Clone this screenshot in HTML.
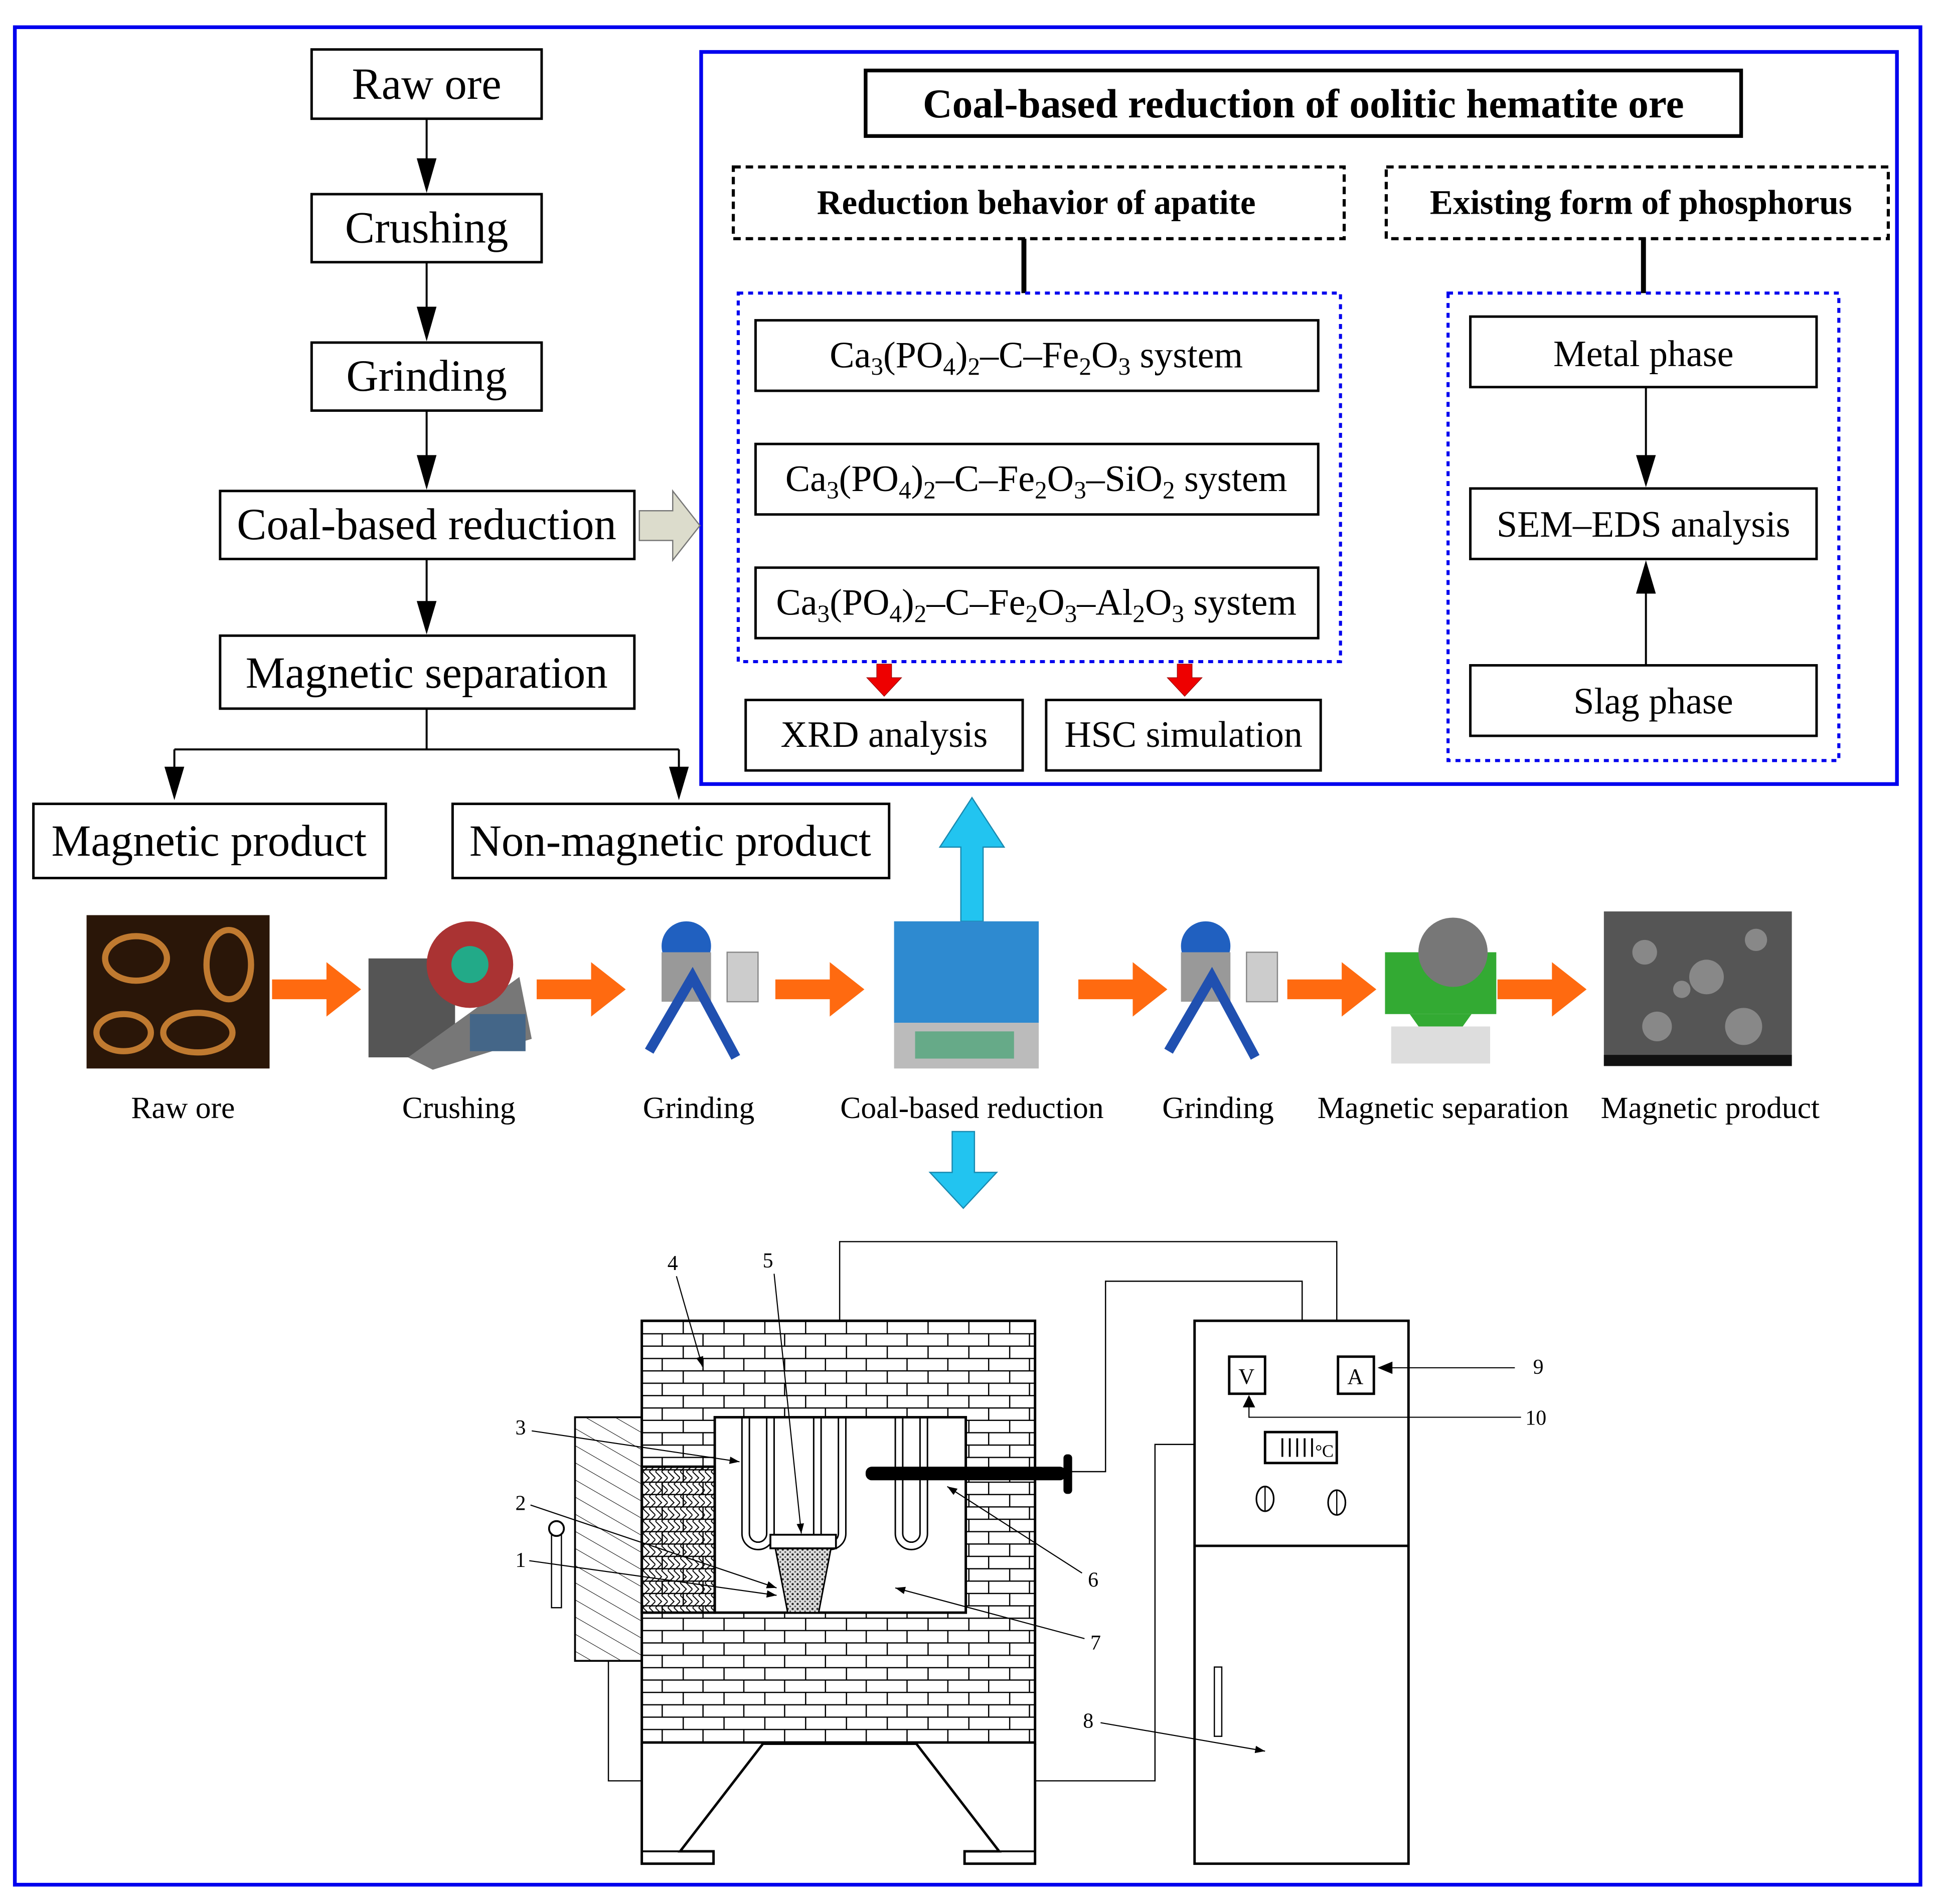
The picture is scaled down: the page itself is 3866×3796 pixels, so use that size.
<!DOCTYPE html>
<html><head><meta charset="utf-8"><style>
html,body{margin:0;padding:0;background:#fff}
svg{display:block}
text{font-family:"Liberation Serif",serif;fill:#000}
</style></head><body>
<svg width="3866" height="3796" viewBox="0 0 1568 1539.6" preserveAspectRatio="none" xmlns="http://www.w3.org/2000/svg">
<defs>
<marker id="sa" markerWidth="8" markerHeight="6" refX="8" refY="3" orient="auto" markerUnits="userSpaceOnUse"><path d="M0,0 L8,3 L0,6 Z" fill="#000"/></marker>
<pattern id="brick" width="33" height="20" patternUnits="userSpaceOnUse" x="519" y="1068">
<rect width="33" height="20" fill="#fff"/>
<path d="M0,0.5 H33 M0,10.5 H33 M0.5,0 V10 M16.5,10 V20" stroke="#000" stroke-width="1" fill="none"/>
</pattern>
<pattern id="hatch" width="12" height="12" patternUnits="userSpaceOnUse" patternTransform="rotate(-60)">
<line x1="0" y1="0" x2="0" y2="12" stroke="#000" stroke-width="0.8"/>
</pattern>
<pattern id="weave" width="10" height="10" patternUnits="userSpaceOnUse">
<path d="M0,0 L5,5 L0,10 M5,0 L10,5 L5,10" stroke="#000" stroke-width="0.8" fill="none"/>
</pattern>
<pattern id="dots" width="4" height="4" patternUnits="userSpaceOnUse">
<rect width="4" height="4" fill="#ddd"/><circle cx="1" cy="1" r="0.9" fill="#222"/><circle cx="3" cy="3" r="0.7" fill="#555"/>
</pattern>
</defs>

<rect x="12" y="22" width="1541" height="1502" fill="none" stroke="#0000ee" stroke-width="3"/>
<rect x="567" y="42" width="967" height="592" fill="none" stroke="#0000ee" stroke-width="3"/>

<g fill="#fff" stroke="#000" stroke-width="2">
<rect x="252" y="40" width="186" height="56"/>
<rect x="252" y="157" width="186" height="55"/>
<rect x="252" y="277" width="186" height="55"/>
<rect x="178" y="397" width="335" height="55"/>
<rect x="178" y="514" width="335" height="59"/>
<rect x="27" y="650" width="285" height="60"/>
<rect x="366" y="650" width="353" height="60"/>
</g>
<g font-size="36" text-anchor="middle">
<text x="345" y="80">Raw ore</text>
<text x="345" y="196">Crushing</text>
<text x="345" y="316">Grinding</text>
<text x="345" y="436">Coal-based reduction</text>
<text x="345" y="556">Magnetic separation</text>
<text x="169" y="692">Magnetic product</text>
<text x="542" y="692">Non-magnetic product</text>
</g>
<g stroke="#000" stroke-width="1.6" fill="none">
<path d="M345,96 V130 M345,212 V250 M345,332 V370 M345,452 V488 M345,573 V606 M141,606 H549 M141,606 V622 M549,606 V622"/>
</g>
<g fill="#000">
<path d="M337,128 L353,128 L345,156 Z"/>
<path d="M337,248 L353,248 L345,276 Z"/>
<path d="M337,368 L353,368 L345,396 Z"/>
<path d="M337,486 L353,486 L345,513 Z"/>
<path d="M133,620 L149,620 L141,647 Z"/>
<path d="M541,620 L557,620 L549,647 Z"/>
</g>
<path d="M517,413 H544 V397 L566,425 L544,453 V437 H517 Z" fill="#dcdccc" stroke="#777" stroke-width="1"/>

<rect x="700" y="57" width="708" height="53" fill="#fff" stroke="#000" stroke-width="3"/>
<text x="1054" y="95" font-size="33" font-weight="bold" text-anchor="middle">Coal-based reduction of oolitic hematite ore</text>
<rect x="593" y="135" width="494" height="58" fill="none" stroke="#000" stroke-width="2.5" stroke-dasharray="6,4"/>
<rect x="1121" y="135" width="406" height="58" fill="none" stroke="#000" stroke-width="2.5" stroke-dasharray="6,4"/>
<text x="838" y="173" font-size="28" font-weight="bold" text-anchor="middle">Reduction behavior of apatite</text>
<text x="1327" y="173" font-size="28" font-weight="bold" text-anchor="middle">Existing form of phosphorus</text>
<path d="M828,193 V237 M1329,193 V237" stroke="#000" stroke-width="4"/>
<rect x="597" y="237" width="487" height="298" fill="none" stroke="#0000ee" stroke-width="2.5" stroke-dasharray="4,4"/>
<rect x="1171" y="237" width="316" height="378" fill="none" stroke="#0000ee" stroke-width="2.5" stroke-dasharray="4,4"/>
<g fill="#fff" stroke="#000" stroke-width="2">
<rect x="611" y="259" width="455" height="57"/>
<rect x="611" y="359" width="455" height="57"/>
<rect x="611" y="459" width="455" height="57"/>
<rect x="1189" y="256" width="280" height="57"/>
<rect x="1189" y="395" width="280" height="57"/>
<rect x="1189" y="538" width="280" height="57"/>
<rect x="603" y="566" width="224" height="57"/>
<rect x="846" y="566" width="222" height="57"/>
</g>
<g font-size="30" text-anchor="middle">
<text x="838" y="297">Ca<tspan font-size="20" dy="6">3</tspan><tspan dy="-6">(PO</tspan><tspan font-size="20" dy="6">4</tspan><tspan dy="-6">)</tspan><tspan font-size="20" dy="6">2</tspan><tspan dy="-6">–C–Fe</tspan><tspan font-size="20" dy="6">2</tspan><tspan dy="-6">O</tspan><tspan font-size="20" dy="6">3</tspan><tspan dy="-6"> system</tspan></text>
<text x="838" y="397">Ca<tspan font-size="20" dy="6">3</tspan><tspan dy="-6">(PO</tspan><tspan font-size="20" dy="6">4</tspan><tspan dy="-6">)</tspan><tspan font-size="20" dy="6">2</tspan><tspan dy="-6">–C–Fe</tspan><tspan font-size="20" dy="6">2</tspan><tspan dy="-6">O</tspan><tspan font-size="20" dy="6">3</tspan><tspan dy="-6">–SiO</tspan><tspan font-size="20" dy="6">2</tspan><tspan dy="-6"> system</tspan></text>
<text x="838" y="497">Ca<tspan font-size="20" dy="6">3</tspan><tspan dy="-6">(PO</tspan><tspan font-size="20" dy="6">4</tspan><tspan dy="-6">)</tspan><tspan font-size="20" dy="6">2</tspan><tspan dy="-6">–C–Fe</tspan><tspan font-size="20" dy="6">2</tspan><tspan dy="-6">O</tspan><tspan font-size="20" dy="6">3</tspan><tspan dy="-6">–Al</tspan><tspan font-size="20" dy="6">2</tspan><tspan dy="-6">O</tspan><tspan font-size="20" dy="6">3</tspan><tspan dy="-6"> system</tspan></text>
<text x="1329" y="296">Metal phase</text>
<text x="1329" y="434">SEM–EDS analysis</text>
<text x="1337" y="577">Slag phase</text>
<text x="715" y="604">XRD analysis</text>
<text x="957" y="604">HSC simulation</text>
</g>
<path d="M1331,313 V370 M1331,478 V538" stroke="#000" stroke-width="1.6"/>
<path d="M1323,368 L1339,368 L1331,394 Z M1323,480 L1339,480 L1331,453 Z" fill="#000"/>
<path d="M709,537 H721 V548 H729 L715,563 L701,548 H709 Z M952,537 H964 V548 H972 L958,563 L944,548 H952 Z" fill="#e00" stroke="#900" stroke-width="0.5"/>

<path d="M777,745 V685 H760 L786,645 L812,685 H795 V745 Z" fill="#22c4f0" stroke="#1a8ab0" stroke-width="1"/>
<path d="M770,915 H788 V948 H806 L779,977 L752,948 H770 Z" fill="#22c4f0" stroke="#1a8ab0" stroke-width="1"/>

<rect x="70" y="740" width="148" height="124" fill="#2a1608"/>
<g fill="none" stroke="#c07a30" stroke-width="5">
<ellipse cx="110" cy="775" rx="25" ry="18"/><ellipse cx="185" cy="780" rx="18" ry="28"/>
<ellipse cx="100" cy="835" rx="22" ry="15"/><ellipse cx="160" cy="835" rx="28" ry="16"/>
</g>
<rect x="298" y="775" width="70" height="80" fill="#555"/>
<path d="M330,855 L420,790 L430,840 L350,865 Z" fill="#777"/>
<circle cx="380" cy="780" r="35" fill="#a33"/><circle cx="380" cy="780" r="15" fill="#2a8"/>
<rect x="380" y="820" width="45" height="30" fill="#468"/>
<g id="grinder">
<circle cx="555" cy="765" r="20" fill="#2060c0"/>
<rect x="535" y="770" width="40" height="40" fill="#999"/>
<path d="M525,850 L560,790 L595,855" stroke="#2050b0" stroke-width="8" fill="none"/>
<rect x="588" y="770" width="25" height="40" fill="#ccc" stroke="#888"/>
</g>
<use href="#grinder" x="420" y="0"/>
<rect x="723" y="745" width="117" height="82" fill="#2e8ad0"/>
<rect x="723" y="827" width="117" height="37" fill="#bbb"/>
<rect x="740" y="834" width="80" height="22" fill="#6a8"/>
<rect x="1120" y="770" width="90" height="50" fill="#3a3"/>
<path d="M1140,820 L1165,855 L1190,820 Z" fill="#3a3"/>
<circle cx="1175" cy="770" r="28" fill="#777"/>
<rect x="1125" y="830" width="80" height="30" fill="#ddd"/>
<rect x="1297" y="737" width="152" height="125" fill="#555"/>
<g fill="#888"><circle cx="1330" cy="770" r="10"/><circle cx="1380" cy="790" r="14"/><circle cx="1420" cy="760" r="9"/><circle cx="1340" cy="830" r="12"/><circle cx="1410" cy="830" r="15"/><circle cx="1360" cy="800" r="7"/></g>
<rect x="1297" y="853" width="152" height="9" fill="#111"/>

<g fill="#ff6a10">
<path d="M220,792 H264 V778 L292,800 L264,822 V808 H220 Z"/>
<path d="M434,792 H478 V778 L506,800 L478,822 V808 H434 Z"/>
<path d="M627,792 H671 V778 L699,800 L671,822 V808 H627 Z"/>
<path d="M872,792 H916 V778 L944,800 L916,822 V808 H872 Z"/>
<path d="M1041,792 H1085 V778 L1113,800 L1085,822 V808 H1041 Z"/>
<path d="M1211,792 H1255 V778 L1283,800 L1255,822 V808 H1211 Z"/>
</g>
<g font-size="25" text-anchor="middle">
<text x="148" y="904">Raw ore</text>
<text x="371" y="904">Crushing</text>
<text x="565" y="904">Grinding</text>
<text x="786" y="904">Coal-based reduction</text>
<text x="985" y="904">Grinding</text>
<text x="1167" y="904">Magnetic separation</text>
<text x="1383" y="904">Magnetic product</text>
</g>

<g stroke="#000" fill="none" stroke-width="1">
<path d="M679,1068 V1004 H1081 V1068"/>
<path d="M1053,1068 V1036 H894 V1190 H865"/>
<path d="M492,1343 V1440 H519 M837,1440 H934 V1168 H966"/>
</g>
<rect x="519" y="1068" width="318" height="342" fill="url(#brick)" stroke="#000" stroke-width="2"/>
<rect x="578" y="1146" width="203" height="158" fill="#fff" stroke="#000" stroke-width="2"/>
<rect x="519" y="1186" width="59" height="118" fill="url(#weave)" stroke="#000" stroke-width="2"/>
<rect x="465" y="1146" width="54" height="197" fill="url(#hatch)" stroke="#000" stroke-width="1.5"/>
<rect x="446" y="1240" width="8" height="60" fill="#fff" stroke="#000"/>
<circle cx="450" cy="1236" r="6" fill="#fff" stroke="#000" stroke-width="1.5"/>
<g fill="none" stroke="#000" stroke-width="1.2">
<path d="M600,1146 V1240 A13,13 0 0 0 626,1240 V1146 M606,1146 V1240 A7,7 0 0 0 620,1240 V1146"/>
<path d="M658,1146 V1240 A13,13 0 0 0 684,1240 V1146 M664,1146 V1240 A7,7 0 0 0 678,1240 V1146"/>
<path d="M724,1146 V1240 A13,13 0 0 0 750,1240 V1146 M730,1146 V1240 A7,7 0 0 0 744,1240 V1146"/>
</g>
<path d="M627,1252 L672,1252 L662,1304 L637,1304 Z" fill="url(#dots)" stroke="#000" stroke-width="1.2"/>
<rect x="623" y="1241" width="53" height="11" fill="#fff" stroke="#000" stroke-width="1.5"/>
<rect x="700" y="1186" width="162" height="11" rx="5" fill="#000"/>
<rect x="860" y="1176" width="7" height="32" rx="3" fill="#000"/>
<path d="M519,1410 V1507 H577 V1497 H550 L617,1410 M837,1410 V1507 H780 V1497 H808 L741,1410" fill="#fff" stroke="#000" stroke-width="2"/>
<path d="M519,1497 H577 M780,1497 H837" stroke="#000" stroke-width="1.5"/>
<rect x="966" y="1068" width="173" height="439" fill="#fff" stroke="#000" stroke-width="2"/>
<path d="M966,1250 H1139" stroke="#000" stroke-width="2"/>
<rect x="994" y="1097" width="29" height="30" fill="#fff" stroke="#000" stroke-width="2"/>
<rect x="1082" y="1097" width="29" height="30" fill="#fff" stroke="#000" stroke-width="2"/>
<text x="1008" y="1119" font-size="18" text-anchor="middle">V</text>
<text x="1096" y="1119" font-size="18" text-anchor="middle">A</text>
<rect x="1023" y="1158" width="58" height="25" fill="#fff" stroke="#000" stroke-width="2"/>
<path d="M1037,1163 v15 M1043,1163 v15 M1049,1163 v15 M1055,1163 v15 M1061,1163 v15" stroke="#000" stroke-width="1.5"/>
<text x="1071" y="1178" font-size="14" text-anchor="middle">°C</text>
<g fill="#fff" stroke="#000" stroke-width="1.3">
<ellipse cx="1023" cy="1212" rx="7" ry="10"/><ellipse cx="1081" cy="1215" rx="7" ry="10"/>
</g>
<path d="M1023,1202 V1222 M1081,1205 V1225" stroke="#000"/>
<rect x="982" y="1348" width="6" height="56" fill="#fff" stroke="#000"/>
<g stroke="#000" stroke-width="0.9" fill="none" marker-end="url(#sa)">
<path d="M430,1157 L598,1182"/><path d="M429,1217 L628,1284"/><path d="M428,1262 L628,1290"/>
<path d="M547,1032 L568,1105"/><path d="M626,1030 L648,1240"/><path d="M875,1272 L766,1202"/>
<path d="M877,1325 L724,1284"/><path d="M890,1393 L1023,1416"/>
</g>
<g stroke="#000" stroke-width="0.9" fill="none">
<path d="M1225,1106 H1118 M1230,1146 H1010 V1133"/>
</g>
<g fill="#000">
<path d="M1114,1106 L1126,1101 L1126,1111 Z"/>
<path d="M1010,1128 L1005,1138 L1015,1138 Z"/>
</g>
<g font-size="17" text-anchor="middle">
<text x="1244" y="1111">9</text><text x="1242" y="1152">10</text>
<text x="421" y="1160">3</text><text x="421" y="1221">2</text><text x="421" y="1267">1</text>
<text x="544" y="1027">4</text><text x="621" y="1025">5</text>
<text x="884" y="1283">6</text><text x="886" y="1334">7</text><text x="880" y="1397">8</text>
</g>
</svg>
</body></html>
